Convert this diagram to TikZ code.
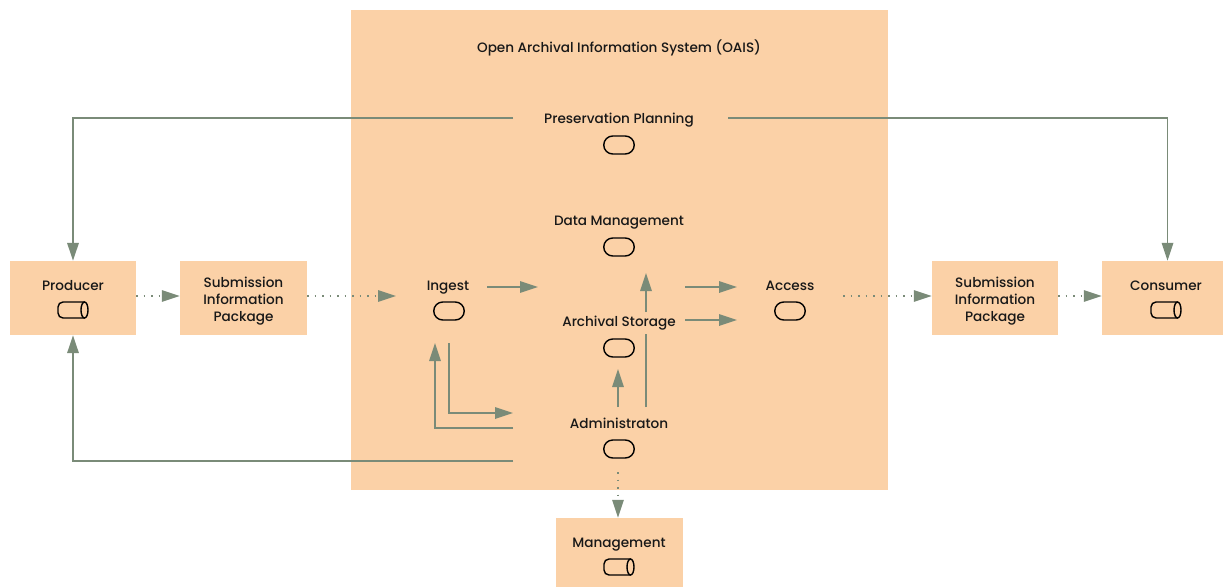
\documentclass[tikz,border=0pt]{standalone}
\usepackage{xcolor}
\usepackage{fontspec}
\setmainfont{Poppins Medium}
\usepackage{tikz}
\usetikzlibrary{arrows.meta}
\definecolor{boxfill}{HTML}{FBD1A7}
\definecolor{flowcol}{HTML}{7A8B78}
\definecolor{inkcol}{HTML}{181818}
\tikzset{
  box/.style={fill=boxfill,draw=none,inner sep=0pt},
  txt/.style={inner sep=0pt,text=inkcol,anchor=base,align=center,font=\fontsize{13.6}{17}\selectfont},
  pill/.style={draw=black,line width=1.4pt,rounded corners=9pt,minimum width=30.5pt,minimum height=18pt,inner sep=0pt},
  flow/.style={draw=flowcol,line width=1.7pt,-{Triangle[length=18pt,width=11.5pt]}},
  flowplain/.style={draw=flowcol,line width=1.7pt},
  dotflow/.style={draw=flowcol,line width=1.5pt,dash pattern=on 1.5pt off 6pt,-{Triangle[length=18pt,width=11.5pt]}},
  pics/drum/.style={code={
    \draw[black,line width=1.4pt,rounded corners=5pt] (11.5,-8) -- (-15,-8) -- (-15,8) -- (11.5,8);
    \draw[black,line width=1.4pt] (11.5,0) ellipse (3.5 and 8);
  }}
}
\begin{document}
\begin{tikzpicture}[x=1pt,y=-1pt]
\useasboundingbox (0,0) rectangle (1223,587);
\node[box,minimum width=537pt,minimum height=480pt] (oais) at (619.5,250) {};
\node[box,minimum width=126pt,minimum height=74pt] (producer) at (73,298) {};
\node[box,minimum width=127pt,minimum height=74pt] (sipin) at (243.5,298) {};
\node[box,minimum width=126pt,minimum height=74pt] (sipout) at (995,298) {};
\node[box,minimum width=121pt,minimum height=74pt] (consumer) at (1162.5,298) {};
\node[box,minimum width=127pt,minimum height=69pt] (management) at (619.5,552.5) {};
% labels
\node[txt] at (619,52) (oaistitle) {Open Archival Information System (OAIS)};
\node[txt] at (619,123) (planninglabel) {Preservation Planning};
\node[txt] at (619,225) (datamgmt) {Data Management};
\node[txt] at (448,290) (ingest) {Ingest};
\node[txt] at (790,290) (access) {Access};
\node[txt] at (619,326) (storage) {Archival Storage};
\node[txt] at (619,428) (admin) {Administraton};
\node[txt] at (73,290) (producerlabel) {Producer};
\node[txt] at (1166,290) (consumerlabel) {Consumer};
\node[txt] at (619,547) (managementlabel) {Management};
\node[txt,anchor=center] at (243.5,301.5) (sipinlabel) {Submission\\Information\\Package};
\node[txt,anchor=center] at (995,301.5) (sipoutlabel) {Submission\\Information\\Package};
% icons
\node[pill] at (619,145) (planningicon) {};
\node[pill] at (619,247) (datamgmticon) {};
\node[pill] at (449,311) (ingesticon) {};
\node[pill] at (790,311) (accessicon) {};
\node[pill] at (619,348) (storageicon) {};
\node[pill] at (619,449) (adminicon) {};
\pic (producericon) at (73,310) {drum};
\pic (consumericon) at (1166,310) {drum};
\pic (managementicon) at (619,567) {drum};
% free ends
\coordinate (planningwest) at (513,118);
\coordinate (planningeast) at (728,118);
\coordinate (ingestin) at (396,296);
\coordinate (ingestout) at (487,287);
\coordinate (storagein) at (538,287);
\coordinate (ingestdown) at (449,343);
\coordinate (ingestup) at (435,343);
\coordinate (adminin) at (513,413);
\coordinate (adminup) at (513,428);
\coordinate (adminback) at (513,461);
\coordinate (adminstore) at (618,407);
\coordinate (storagetip) at (618,369);
\coordinate (adminrise) at (646,407);
\coordinate (riseend) at (646,334);
\coordinate (risestart) at (646,312);
\coordinate (datatip) at (646,273);
\coordinate (outone) at (685,287);
\coordinate (tipone) at (737,287);
\coordinate (outtwo) at (685,320);
\coordinate (tiptwo) at (737,320);
\coordinate (accessout) at (843,296);
\coordinate (admindown) at (618,472);
% connectors
\draw[flow] (planningwest) -| (producer.north);
\draw[flow] (planningeast) -| ([xshift=5pt]consumer.north);
\draw[flow] (adminback) -| (producer.south);
\draw[flow] (adminup) -| (ingestup);
\draw[flow] (ingestdown) |- (adminin);
\draw[flow] (ingestout) -- (storagein);
\draw[flow] (outone) -- (tipone);
\draw[flow] (outtwo) -- (tiptwo);
\draw[flow] (adminstore) -- (storagetip);
\draw[flowplain] (adminrise) -- (riseend);
\draw[flow] (risestart) -- (datatip);
\draw[dotflow] ([yshift=2pt]producer.east) -- ([yshift=2pt]sipin.west);
\draw[dotflow] ([yshift=2pt]sipin.east) -- (ingestin);
\draw[dotflow] (accessout) -- ([yshift=2pt]sipout.west);
\draw[dotflow] ([yshift=2pt]sipout.east) -- ([yshift=2pt]consumer.west);
\draw[dotflow] (admindown) -- (admindown |- management.north);
\end{tikzpicture}
\end{document}
